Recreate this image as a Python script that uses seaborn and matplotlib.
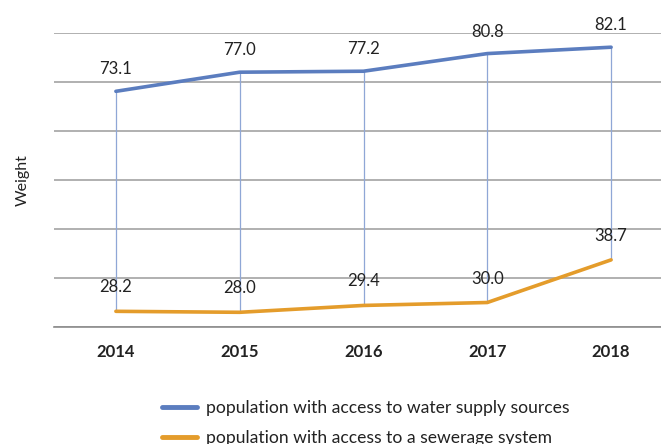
import matplotlib
matplotlib.use("Agg")
import matplotlib.pyplot as plt
import pandas as pd
import seaborn as sns

sns.set_style("white")
plt.rcParams['font.family'] = ['Lato', 'DejaVu Sans']

# data
years = ['2014', '2015', '2016', '2017', '2018']
water = [73.1, 77.0, 77.2, 80.8, 82.1]
sewer = [28.2, 28.0, 29.4, 30.0, 38.7]
water_name = 'population with access to water supply sources'
sewer_name = 'population with access to a sewerage system'

df = pd.DataFrame({
    'Year': years * 2,
    'Value': water + sewer,
    'Series': [water_name] * len(years) + [sewer_name] * len(years),
})

blue = '#5B7DBF'
orange = '#E49C2B'

fig = plt.figure(figsize=(6.61, 4.44), dpi=100)
ax = fig.add_axes([54 / 661, 1 - 327 / 444, 619 / 661, 294 / 444])

# high-low lines between the two series
ax.vlines(range(len(years)), sewer, water, color='#8FA7D6', linewidth=0.9, zorder=1)

sns.lineplot(data=df, x='Year', y='Value', hue='Series', sort=False,
             palette=[blue, orange], linewidth=2.6, ax=ax, legend=False, zorder=3)

for i, v in enumerate(water):
    ax.annotate(f'{v:.1f}', (i, v), xytext=(0, 22), textcoords='offset pixels',
                ha='center', va='center', fontsize=12, color='#222222')
for i, v in enumerate(sewer):
    ax.annotate(f'{v:.1f}', (i, v), xytext=(0, 24), textcoords='offset pixels',
                ha='center', va='center', fontsize=12, color='#222222')

ax.set_xlim(-0.5, 4.5)
ax.set_ylim(25, 85)
ax.set_yticks(range(25, 86, 10))
ax.set_yticklabels([])
ax.tick_params(axis='y', length=0)
ax.tick_params(axis='x', length=0, pad=12, labelsize=12)
for lab in ax.get_xticklabels():
    lab.set_fontweight('bold')
    lab.set_color('#222222')
ax.grid(axis='y', color='#A3A3A3', linewidth=1.2)
ax.grid(axis='x', visible=False)
for s in ['top', 'right', 'left']:
    ax.spines[s].set_visible(False)
ax.spines['bottom'].set_color('#8C8C8C')
ax.spines['bottom'].set_linewidth(1.2)
ax.set_xlabel('')
ax.set_ylabel('Weight', fontsize=11.5, color='#222222', labelpad=14)

h1, = ax.plot([], [], color=blue, linewidth=3.5, solid_capstyle='round')
h2, = ax.plot([], [], color=orange, linewidth=3.5, solid_capstyle='round')
fig.legend([h1, h2], [water_name, sewer_name], loc='upper left',
           bbox_to_anchor=(146 / 661, 1 - 384 / 444), frameon=False,
           fontsize=12.6, handlelength=2.0, handletextpad=0.55, labelspacing=0.8,
           labelcolor='#222222')

fig.savefig('out.png', dpi=100)
